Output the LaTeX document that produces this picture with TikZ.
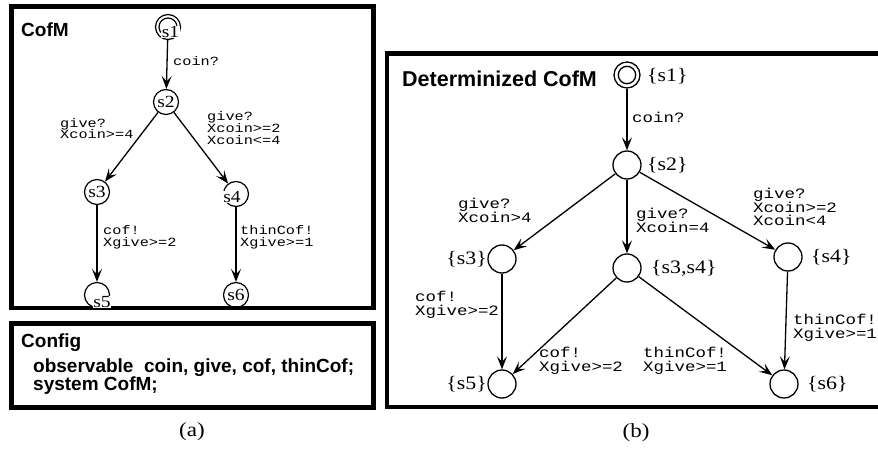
\documentclass[tikz,border=0pt]{standalone}
\usepackage{fontspec}
\setmainfont[FakeStretch=1.15]{Liberation Serif}
\setsansfont{Liberation Sans}
\newfontfamily\monoA[FakeStretch=1.22]{Liberation Mono}
\usetikzlibrary{arrows.meta}

\tikzset{
  frame/.style={line width=4.5pt},
  stA/.style={circle, draw, line width=1.2pt, minimum size=25pt, inner sep=0pt},
  stB/.style={circle, draw, line width=1.3pt, minimum size=28pt, inner sep=0pt},
  tr/.style={-{Stealth[length=13pt,width=10pt,inset=5.5pt]}, line width=1.3pt},
  lblA/.style={anchor=west, inner sep=0pt, align=left, font=\monoA\fontsize{12.5}{11.8}\selectfont},
  lblB/.style={anchor=west, inner sep=0pt, align=left, font=\monoA\fontsize{14.3}{13.8}\selectfont},
  nameA/.style={inner sep=0.4pt, fill=white, font=\fontsize{17}{17}\selectfont},
  nameB/.style={inner sep=0pt, font=\fontsize{19}{19}\selectfont},
  head/.style={anchor=base west, inner sep=0pt, font=\sffamily\bfseries\fontsize{19}{19}\selectfont},
  caption/.style={inner sep=0pt, font=\fontsize{20}{20}\selectfont},
}

\begin{document}
\begin{tikzpicture}[x=1pt, y=-1pt]
  \useasboundingbox (0,0) rectangle (878,449);
  \clip (0,0) rectangle (878,449);

  % ---------- (a) the automaton CofM ----------
  \draw[frame] (11.5,6.5) rectangle (373.3,308);
  \node[head] (hA) at (21,37) {CofM};

  \node[stA] (a1) at (168,27) {};
  \draw[line width=1.2pt] (a1.center) circle (9);
  \node[stA] (a2) at (166,102) {};
  \node[stA] (a3) at (97,192) {};
  \node[stA] (a4) at (236,194) {};
  \node[stA] (a5) at (97,295) {};
  \node[stA] (a6) at (236,295) {};

  \node[nameA] (ta1) at (170.5,32) {s1};
  \node[nameA] (ta2) at (a2) {s2};
  \node[nameA] (ta3) at (a3) {s3};
  \node[nameA] (ta4) at (232,197) {s4};
  \node[nameA] (ta5) at (102,302) {s5};
  \node[nameA] (ta6) at (a6) {s6};

  \draw[tr] (a1) -- (a2);
  \draw[tr] (a2) -- (a3);
  \draw[tr] (a2) -- (a4);
  \draw[tr] (a3) -- (a5);
  \draw[tr] (a4) -- (a6);

  \node[lblA] (la1) at (173,61) {coin?};
  \node[lblA] (la2) at (60,128.5) {give?\\Xcoin>=4};
  \node[lblA] (la3) at (207,128) {give?\\Xcoin>=2\\Xcoin<=4};
  \node[lblA] (la4) at (103,237.5) {cof!\\Xgive>=2};
  \node[lblA] (la5) at (240,237.5) {thinCof!\\Xgive>=1};

  % ---------- (a) configuration ----------
  \draw[frame] (11.5,323.5) rectangle (373.3,407.5);
  \node[head] (hC) at (21,347) {Config};
  \node[head, align=left, anchor=north west,
        font=\sffamily\bfseries\fontsize{19}{18}\selectfont] (cfg) at (33,359)
        {observable\ \ coin, give, cof, thinCof;\\system CofM;};

  \node[caption] (capA) at (192,432) {(a)};

  % ---------- (b) determinized automaton ----------
  \draw[frame] (387,53.5) rectangle (900,407);
  \node[head, font=\sffamily\bfseries\fontsize{21.5}{21.5}\selectfont] (hB) at (402,87) {Determinized CofM};

  \node[stB, minimum size=26pt] (b1) at (627,75) {};
  \draw[line width=1.3pt] (b1.center) circle (8.7);
  \node[stB] (b2) at (627,165) {};
  \node[stB] (b3) at (502,259) {};
  \node[stB] (b34) at (627,268) {};
  \node[stB] (b4) at (788,257) {};
  \node[stB] (b5) at (502,384) {};
  \node[stB] (b6) at (784,384) {};

  \node[nameB, anchor=west] (tb1) at (647,76) {\{s1\}};
  \node[nameB, anchor=west] (tb2) at (647,165) {\{s2\}};
  \node[nameB, anchor=east] (tb3) at (487,259) {\{s3\}};
  \node[nameB, anchor=west] (tb34) at (651,268) {\{s3,s4\}};
  \node[nameB, anchor=west] (tb4) at (811,257) {\{s4\}};
  \node[nameB, anchor=east] (tb5) at (487,384) {\{s5\}};
  \node[nameB, anchor=west] (tb6) at (807,384) {\{s6\}};

  \draw[tr] (b1) -- (b2);
  \draw[tr] (b2) -- (b3);
  \draw[tr] (b2) -- (b34);
  \draw[tr] (b2) -- (b4);
  \draw[tr] (b3) -- (b5);
  \draw[tr] (b34) -- (b5);
  \draw[tr] (b34) -- (b6);
  \draw[tr] (b4) -- (b6);

  \node[lblB] (lb1) at (632,117) {coin?};
  \node[lblB] (lb2) at (458,210) {give?\\Xcoin>4};
  \node[lblB] (lb3) at (636,220) {give?\\Xcoin=4};
  \node[lblB] (lb4) at (753,207) {give?\\Xcoin>=2\\Xcoin<4};
  \node[lblB] (lb5) at (415,305) {cof!\\Xgive>=2};
  \node[lblB] (lb6) at (539,360.5) {cof!\\Xgive>=2};
  \node[lblB] (lb7) at (643,360.5) {thinCof!\\Xgive>=1};
  \node[lblB] (lb8) at (793,328) {thinCof!\\Xgive>=1};

  \node[caption] (capB) at (636,433) {(b)};
\end{tikzpicture}
\end{document}
